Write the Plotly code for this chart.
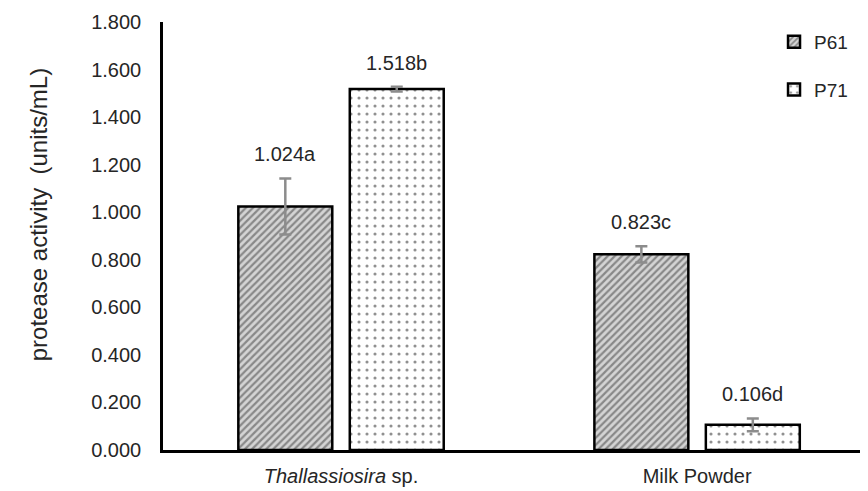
import plotly.graph_objects as go

categories = ["Thallassiosira sp.", "Milk Powder"]
tick_labels = ["<i>Thallassiosira</i> sp.", "Milk Powder"]
series_names = ["P61", "P71"]
p61_values = [1.024, 0.823]
p71_values = [1.518, 0.106]
p61_err = [0.118, 0.034]
p71_err = [0.010, 0.027]
p61_letters = ["a", "c"]
p71_letters = ["b", "d"]
y_title = "protease activity  (units/mL)"

FONT = "Liberation Sans"
TXT = "#262626"
bargap = 0.374
bargroupgap = 0.157

fig = go.Figure()
styles = [
    dict(shape="/", fgcolor="#3c3c3c", bgcolor="#d4d4d4", size=5, solidity=0.45),
    dict(shape=".", fgcolor="#222222", bgcolor="#ffffff", size=8, solidity=0.12),
]
for name, vals, errs, st in zip(series_names, [p61_values, p71_values],
                                [p61_err, p71_err], styles):
    fig.add_trace(go.Bar(
        name=name, x=categories, y=vals, legendgroup=name,
        marker=dict(color=st["bgcolor"], pattern=st,
                    line=dict(color="#000000", width=2.5)),
        error_y=dict(type="data", array=errs, visible=True,
                     color="#8c8c8c", thickness=2.5, width=6),
    ))

slot = (1 - bargap) / 2
for j, (vals, errs, letters) in enumerate([(p61_values, p61_err, p61_letters),
                                          (p71_values, p71_err, p71_letters)]):
    for i, (v, e, l) in enumerate(zip(vals, errs, letters)):
        fig.add_annotation(
            x=i + (j - 0.5) * slot, y=v + e, xref="x", yref="y",
            text=f"{v:.3f}{l}", showarrow=False, yanchor="bottom", yshift=11,
            font=dict(family=FONT, size=20, color=TXT),
        )

# y-axis title
fig.add_annotation(
    x=-0.177, y=0.549, xref="paper", yref="paper", text=y_title,
    textangle=-90, showarrow=False, xanchor="center", yanchor="middle",
    font=dict(family=FONT, size=24, color=TXT),
)

fig.update_layout(
    width=860, height=483,
    margin=dict(l=155, r=0, t=14, b=41),
    paper_bgcolor="white", plot_bgcolor="white",
    barmode="group", bargap=bargap, bargroupgap=bargroupgap,
    font=dict(family=FONT, size=20, color=TXT),
    legend=dict(x=0.8667, y=0.998, xanchor="left", yanchor="top",
                font=dict(family=FONT, size=19, color=TXT),
                tracegroupgap=20, itemwidth=30, bgcolor="rgba(0,0,0,0)"),
    xaxis=dict(range=[-0.5, 1.48], tickmode="array",
               tickvals=categories, ticktext=tick_labels,
               showline=True, linecolor="#000000", linewidth=2.5,
               showgrid=False, ticks="", ticklabelstandoff=6,
               tickfont=dict(family=FONT, size=20, color=TXT)),
    yaxis=dict(range=[0, 1.8], dtick=0.2, tickformat=".3f",
               showline=True, linecolor="#000000", linewidth=2.5,
               showgrid=False, zeroline=False, ticks="",
               ticklabelstandoff=15,
               tickfont=dict(family=FONT, size=20, color=TXT)),
)

fig.write_html("out.html")
